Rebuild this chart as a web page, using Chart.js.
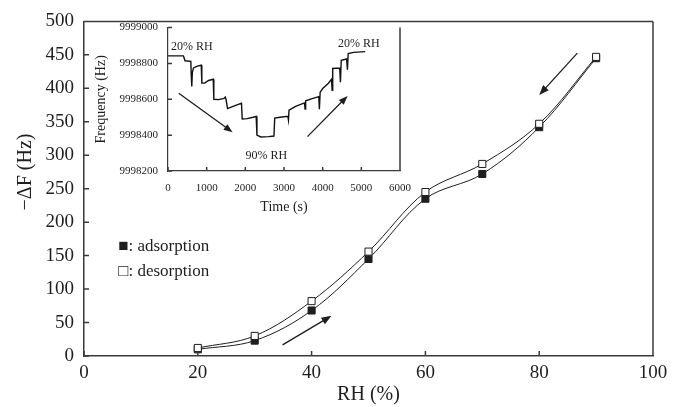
<!DOCTYPE html>
<html>
<head>
<meta charset="utf-8">
<script src="https://cdn.jsdelivr.net/npm/chart.js@4.4.1/dist/chart.umd.min.js"></script>
<style>
  html, body { margin: 0; padding: 0; background: #fff; }
  #wrap { position: relative; width: 674px; height: 407px; }
  #mainChart { position: absolute; left: 0; top: 0; }
  #insetChart { position: absolute; left: 90px; top: 11px; }
</style>
</head>
<body>
<div id="wrap">
  <canvas id="mainChart" width="674" height="407"></canvas>
  <canvas id="insetChart" width="332" height="207"></canvas>
</div>
<script>
// main chart: frequency shift vs relative humidity
const rhPct = [20, 30, 40, 50, 60, 70, 80, 90];
const adsorptionHz = [10, 23, 68, 145, 235, 272, 342, 445];
const desorptionHz = [12, 30, 82, 156, 245, 287, 347, 447];

// inset: frequency vs time
const timeS = [0, 400, 440, 590, 600, 615, 630, 660, 760, 860, 875, 950, 1050, 1170, 1185, 1300, 1450, 1480, 1500,
  1540, 1650, 1800, 1900, 1920, 2050, 2200, 2280, 2300, 2400, 2600, 2740, 2760, 2900, 3100, 3115, 3130, 3300,
  3530, 3545, 3560, 3750, 3900, 3915, 3935, 4000, 4150, 4230, 4245, 4260, 4440, 4460, 4480, 4620, 4640, 4660,
  4800, 5100];
const freqHz = [9998842, 9998842, 9998815, 9998812, 9998740, 9998672, 9998750, 9998775, 9998785, 9998790, 9998690,
  9998690, 9998705, 9998712, 9998600, 9998598, 9998605, 9998612, 9998600,
  9998548, 9998558, 9998570, 9998578, 9998490, 9998492, 9998500, 9998505, 9998400, 9998390, 9998392, 9998395,
  9998495, 9998500, 9998505, 9998485, 9998540, 9998560,
  9998580, 9998545, 9998592, 9998605, 9998615, 9998545, 9998640, 9998660, 9998690, 9998712, 9998650, 9998772,
  9998775, 9998695, 9998818, 9998825, 9998765, 9998855,
  9998862, 9998866];

// annotations, in data units of each chart
const mainArrows = [[[34.9, 16.7], [43.5, 60]], [[86.7, 452.6], [80.0, 390]]];
const legendRows = [[6, 163, '\u25A0: adsorption'], [6, 126, '\u25A1: desorption']];
const insetArrows = [[[278, 9998634], [1671, 9998416]], [[3607, 9998392], [4645, 9998619]]];
const insetLabels = [[615, 9998890, '20% RH'], [2540, 9998287, '90% RH'], [4936, 9998911, '20% RH']];
const mainYTitle = '\u2212\u0394F (Hz)';

const serif = "'Liberation Serif', 'Times New Roman', serif";
const ink = '#1e1e1e';
const axisGrey = '#3a3a3a';
Chart.defaults.font.family = serif;
Chart.defaults.color = ink;

function drawArrow(ctx, x1, y1, x2, y2, head) {
  const a = Math.atan2(y2 - y1, x2 - x1);
  const c = Math.cos(a), s = Math.sin(a);
  ctx.beginPath();
  ctx.moveTo(x1, y1);
  ctx.lineTo(x2 - c * head * 0.8, y2 - s * head * 0.8);
  ctx.stroke();
  ctx.beginPath();
  ctx.moveTo(x2, y2);
  ctx.lineTo(x2 - head * c + head * 0.38 * s, y2 - head * s - head * 0.38 * c);
  ctx.lineTo(x2 - head * c - head * 0.38 * s, y2 - head * s + head * 0.38 * c);
  ctx.closePath();
  ctx.fill();
}

// frame sides, inward ticks, arrows and text notes
const extras = {
  id: 'extras',
  afterDraw(chart, args, o) {
    const { ctx, chartArea: a, scales } = chart;
    const xs = scales.x, ys = scales.y;
    ctx.save();
    ctx.strokeStyle = axisGrey;
    ctx.lineWidth = 1.5;
    ctx.beginPath();
    if (o.top) { ctx.moveTo(a.left, a.top); ctx.lineTo(a.right, a.top); }
    ctx.moveTo(a.right, a.top);
    ctx.lineTo(a.right, a.bottom);
    xs.ticks.forEach(t => {
      const px = xs.getPixelForValue(t.value);
      ctx.moveTo(px, a.bottom);
      ctx.lineTo(px, a.bottom - o.tick);
    });
    ys.ticks.forEach(t => {
      const py = ys.getPixelForValue(t.value);
      ctx.moveTo(a.left, py);
      ctx.lineTo(a.left + o.tick, py);
    });
    ctx.stroke();

    ctx.strokeStyle = ink;
    ctx.fillStyle = ink;
    ctx.lineWidth = 1.3;
    o.arrows.forEach(([p, q]) => {
      drawArrow(ctx, xs.getPixelForValue(p[0]), ys.getPixelForValue(p[1]),
        xs.getPixelForValue(q[0]), ys.getPixelForValue(q[1]), o.head);
    });

    ctx.font = o.font;
    ctx.textAlign = o.align;
    ctx.textBaseline = 'middle';
    o.notes.forEach(([x, y, txt]) => {
      ctx.fillText(txt, xs.getPixelForValue(x), ys.getPixelForValue(y));
    });

    // y title sits a little above the axis middle, as in the source figure
    if (o.yTitle) {
      ctx.translate(26, ys.getPixelForValue(275));
      ctx.rotate(-Math.PI / 2);
      ctx.font = '20px ' + serif;
      ctx.textAlign = 'center';
      ctx.fillText(o.yTitle, 0, 0);
    }
    ctx.restore();
  }
};

new Chart(document.getElementById('mainChart'), {
  type: 'line',
  data: {
    datasets: [
      {
        label: 'desorption',
        data: rhPct.map((x, i) => ({ x, y: desorptionHz[i] })),
        borderColor: ink,
        borderWidth: 1,
        tension: 0.35,
        pointStyle: 'rect',
        pointRadius: 5,
        pointBackgroundColor: '#fff',
        pointBorderColor: ink,
        pointBorderWidth: 1
      },
      {
        label: 'adsorption',
        data: rhPct.map((x, i) => ({ x, y: adsorptionHz[i] })),
        borderColor: ink,
        borderWidth: 1,
        tension: 0.35,
        pointStyle: 'rect',
        pointRadius: 5,
        pointBackgroundColor: ink,
        pointBorderColor: ink,
        pointBorderWidth: 1
      }
    ]
  },
  options: {
    responsive: false,
    animation: false,
    layout: { padding: { top: 21, right: 21, bottom: 0, left: 0 } },
    plugins: {
      legend: { display: false },
      tooltip: { enabled: false },
      extras: { top: true, tick: 5, head: 10, arrows: mainArrows, notes: legendRows,
        font: '17px ' + serif, align: 'left', yTitle: mainYTitle }
    },
    scales: {
      x: {
        type: 'linear',
        min: 0, max: 100,
        afterFit: s => { s.height = 51; },
        grid: { display: false, drawTicks: false },
        border: { display: true, color: axisGrey, width: 1.5 },
        ticks: { stepSize: 20, padding: 6, font: { size: 19 }, maxRotation: 0 },
        title: { display: true, text: 'RH (%)', font: { size: 20 }, padding: { top: 0, bottom: 0 } }
      },
      y: {
        min: 0, max: 500,
        afterFit: s => { s.width = 84; },
        grid: { display: false, drawTicks: false },
        border: { display: true, color: axisGrey, width: 1.5 },
        ticks: { stepSize: 50, padding: 10, font: { size: 19 } },
        title: { display: false }
      }
    }
  },
  plugins: [extras]
});

new Chart(document.getElementById('insetChart'), {
  type: 'line',
  data: {
    datasets: [{
      label: 'Frequency',
      data: timeS.map((x, i) => ({ x, y: freqHz[i] })),
      borderColor: '#111',
      borderWidth: 1.4,
      tension: 0,
      pointRadius: 0
    }]
  },
  options: {
    responsive: false,
    animation: false,
    layout: { padding: { top: 8, right: 10, bottom: 0, left: 0 } },
    plugins: {
      legend: { display: false },
      tooltip: { enabled: false },
      extras: { top: false, tick: 4, head: 9, arrows: insetArrows, notes: insetLabels,
        font: '12px ' + serif, align: 'center' }
    },
    scales: {
      x: {
        type: 'linear',
        min: 0, max: 6000,
        afterFit: s => { s.height = 47; },
        grid: { display: false, drawTicks: false },
        border: { display: true, color: axisGrey, width: 1.2 },
        ticks: { stepSize: 1000, padding: 11, font: { size: 11 }, maxRotation: 0, callback: v => String(v) },
        title: { display: true, text: 'Time (s)', font: { size: 14 }, padding: { top: 0, bottom: 2 } }
      },
      y: {
        min: 9998200, max: 9999000,
        afterFit: s => { s.width = 78; },
        grid: { display: false, drawTicks: false },
        border: { display: true, color: axisGrey, width: 1.2 },
        ticks: { stepSize: 200, padding: 10, font: { size: 11 }, callback: v => String(v) },
        title: { display: true, text: 'Frequency (Hz)', font: { size: 14 }, padding: { top: 3, bottom: 0 } }
      }
    }
  },
  plugins: [extras]
});
</script>
</body>
</html>
